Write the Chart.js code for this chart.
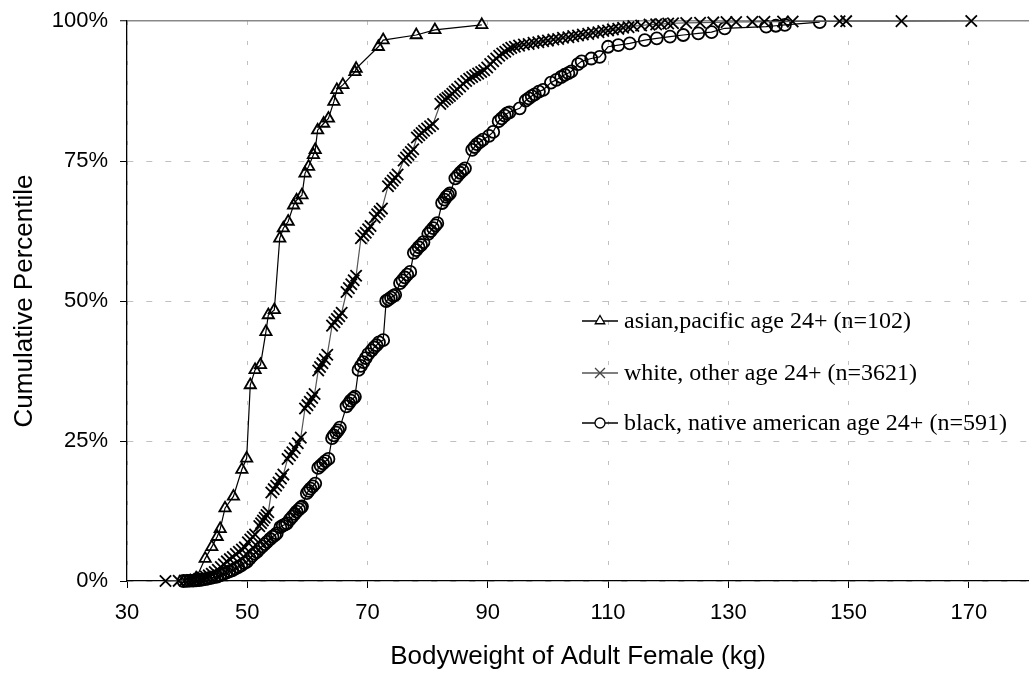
<!DOCTYPE html>
<html>
<head>
<meta charset="utf-8">
<script src="https://cdn.jsdelivr.net/npm/chart.js@4/dist/chart.umd.min.js"></script>
<style>
  html, body { margin: 0; padding: 0; background: #fff; overflow: hidden; }
  #wrap { width: 1029px; height: 675px; position: relative; }
  #chart { display: block; }
</style>
</head>
<body>
<div id="wrap"><canvas id="chart"></canvas></div>
<script>
// each point: [bodyweight kg, cumulative percentile %]
const seriesLabels = [
  'asian,pacific age 24+ (n=102)',
  'white, other age 24+ (n=3621)',
  'black, native american age 24+ (n=591)'
];

const asianPts = [
  [41.5,0.5],[43.0,4.0],[44.1,6.1],[45.0,7.9],[45.5,9.3],[46.3,13.0],[47.7,15.1],
  [49.1,19.9],[49.9,21.9],[50.5,35.0],[51.3,37.7],[52.2,38.6],[53.1,44.5],[53.5,47.5],
  [54.5,48.4],[55.4,61.2],[56.0,63.0],[56.8,64.2],[57.7,67.1],[58.2,68.0],[59.1,68.9],
  [59.6,72.8],[60.2,74.0],[61.0,76.1],[61.3,77.0],[61.7,80.5],[62.7,81.7],[63.5,82.6],
  [64.4,85.6],[64.9,87.7],[65.9,88.6],[67.9,90.9],[68.1,91.5],[71.8,95.4],[72.6,96.6],
  [78.1,97.5],[81.2,98.4],[89.0,99.3]
];

const whitePts = [
  [36.4,0.0],[38.6,0.03],[39.6,0.06],[40.2,0.1],[40.8,0.15],[41.4,0.25],[42.0,0.4],
  [42.6,0.6],[43.1,0.8],[43.6,1.0],[44.1,1.3],[44.6,1.6],[45.1,2.0],[45.6,2.5],[46.1,3.0],
  [46.6,3.5],[47.1,3.9],[47.6,4.3],[48.1,4.8],[48.6,5.2],[49.1,5.6],[49.6,6.0],
  [50.1,6.9],[50.5,7.4],[50.9,7.9],[51.3,8.3],
  [52.0,9.8],[52.3,10.3],[52.6,10.8],[52.9,11.3],[53.2,11.8],[53.5,12.3],
  [54.0,15.8],[54.4,16.4],[54.8,17.0],[55.2,17.6],[55.6,18.3],[56.0,19.0],
  [56.7,21.8],[57.1,22.4],[57.5,23.0],[57.9,23.7],[58.4,24.6],[58.9,25.6],
  [59.6,30.8],[60.0,31.4],[60.4,32.0],[60.8,32.7],[61.2,33.4],
  [61.8,37.6],[62.1,38.2],[62.5,38.9],[62.9,39.6],[63.3,40.4],
  [64.1,45.6],[64.5,46.2],[64.9,46.8],[65.3,47.3],[65.7,47.9],
  [66.5,51.6],[66.9,52.3],[67.3,53.0],[67.7,53.7],[68.1,54.5],
  [68.9,61.2],[69.3,61.7],[69.7,62.2],[70.1,62.8],[70.5,63.4],
  [71.2,64.9],[71.6,65.5],[72.0,66.0],[72.4,66.5],
  [73.4,70.5],[73.8,71.0],[74.2,71.5],[74.6,72.0],[75.0,72.6],
  [76.0,75.1],[76.4,75.6],[76.8,76.1],[77.2,76.6],[77.6,77.1],
  [78.2,79.2],[78.6,79.6],[79.0,80.0],[79.4,80.4],[79.9,80.8],[80.4,81.2],[80.9,81.6],
  [82.1,85.2],[82.5,85.6],[82.9,86.0],[83.3,86.3],[83.7,86.6],[84.1,87.0],[84.5,87.4],
  [84.9,87.8],[85.4,88.3],[85.9,88.8],[86.4,89.3],[86.9,89.7],[87.4,90.0],[87.9,90.3],
  [88.4,90.6],[88.9,90.9],[89.4,91.2],[89.9,91.7],[90.4,92.3],[90.9,92.8],[91.4,93.3],
  [91.9,93.8],[92.4,94.2],[92.9,94.5],[93.4,94.9],[93.9,95.2],[94.5,95.4],[95.2,95.6],
  [96.0,95.8],[96.8,95.9],[97.6,96.1],[98.4,96.2],[99.2,96.4],[100.0,96.5],[100.9,96.7],
  [101.7,96.8],[102.5,97.0],[103.4,97.1],[104.2,97.3],[105.0,97.4],[105.8,97.6],
  [106.7,97.7],[107.5,97.9],[108.4,98.0],[109.2,98.2],[110.0,98.3],[110.8,98.5],
  [111.7,98.6],[112.5,98.8],[113.4,98.9],[114.2,99.1],[115.5,99.2],[116.9,99.35],
  [118.0,99.4],[118.8,99.45],[120.0,99.55],[120.8,99.6],[123.0,99.65],[125.3,99.7],
  [127.5,99.75],[129.7,99.8],[131.3,99.82],[134.0,99.85],[136.0,99.88],[139.1,99.9],
  [140.7,99.92],[148.5,99.95],[149.6,99.97],[158.8,99.98],[170.4,100]
];

const blackPts = [
  [39.4,0.0],[40.0,0.03],[40.5,0.05],[41.0,0.08],[41.5,0.1],[42.0,0.15],[42.5,0.25],
  [43.0,0.35],[43.5,0.45],[44.0,0.55],[44.5,0.7],[45.0,0.8],[45.5,1.0],[46.0,1.25],
  [46.5,1.5],[47.0,1.7],[47.5,1.9],[48.0,2.2],[48.5,2.5],[49.0,2.8],[49.5,3.2],[49.9,3.4],
  [50.4,4.0],[50.8,4.5],[51.2,4.9],[51.6,5.2],[52.1,5.8],[52.5,6.2],[52.9,6.6],[53.3,7.0],
  [53.8,7.5],[54.2,7.9],[54.6,8.2],[54.9,8.5],[55.5,9.6],[55.9,9.9],[56.3,10.1],[56.6,10.3],
  [57.1,11.0],[57.5,11.5],[57.9,12.0],[58.2,12.4],[58.6,12.8],[58.9,13.1],[59.1,13.3],
  [59.9,15.7],[60.2,16.1],[60.5,16.5],[60.9,16.9],[61.3,17.4],
  [61.8,20.2],[62.2,20.6],[62.6,21.0],[63.0,21.4],[63.5,21.8],
  [64.1,25.5],[64.4,26.0],[64.8,26.5],[65.1,26.9],[65.4,27.4],
  [66.5,31.2],[66.9,31.7],[67.2,32.2],[67.6,32.6],[67.9,32.9],
  [68.5,37.7],[68.9,38.4],[69.3,39.1],[69.7,39.8],[70.1,40.5],
  [70.7,41.2],[71.1,41.7],[71.5,42.1],[71.9,42.6],[72.6,43.0],
  [73.1,50.0],[73.5,50.3],[73.9,50.6],[74.3,50.9],[74.6,51.1],
  [75.4,53.2],[75.8,53.7],[76.2,54.2],[76.6,54.7],[77.1,55.2],
  [77.7,58.6],[78.1,59.1],[78.5,59.6],[78.9,60.0],[79.3,60.5],
  [80.1,62.0],[80.5,62.5],[80.9,63.0],[81.3,63.5],[81.6,63.9],
  [82.4,67.5],[82.8,68.1],[83.1,68.6],[83.4,68.9],[83.7,69.2],
  [84.6,71.9],[85.0,72.4],[85.4,72.9],[85.8,73.3],[86.2,73.7],
  [87.4,77.0],[87.8,77.5],[88.2,78.0],[88.7,78.4],[89.2,78.8],
  [90.2,79.5],[90.9,80.2],
  [91.8,82.1],[92.3,82.6],[92.8,83.1],[93.2,83.5],[93.6,83.7],
  [95.3,84.4],[96.3,85.8],[96.8,86.2],[97.3,86.6],[97.8,86.9],[98.5,87.4],[99.2,87.7],
  [100.5,89.0],[101.4,89.5],[102.2,90.0],[102.8,90.4],[103.4,90.7],[103.9,91.0],
  [105.0,92.3],[105.6,92.8],[107.2,93.3],[108.6,93.6],[110.0,95.4],[111.7,95.7],
  [113.6,96.0],[116.1,96.6],[118.1,96.9],[120.3,97.2],[122.5,97.5],[125.0,97.8],
  [127.2,98.0],[129.4,98.7],[136.3,99.0],[137.9,99.15],[139.4,99.3],[145.2,99.8]
];

const xTicks = [30, 50, 70, 90, 110, 130, 150, 170];
const yTicks = [0, 25, 50, 75, 100];

const sansFont = "'Liberation Sans', Arial, sans-serif";
const serifFont = "'Liberation Serif', 'Times New Roman', serif";

function toXY(pts) {
  return pts.map(p => ({ x: p[0], y: p[1] }));
}

function makeSeries(label, pts, style, radius, lineColor) {
  return {
    label: label,
    data: toXY(pts),
    showLine: true,
    borderColor: lineColor,
    borderWidth: 1.2,
    pointStyle: style,
    pointRadius: radius,
    pointBorderColor: '#000',
    pointBackgroundColor: 'rgba(0,0,0,0)',
    pointBorderWidth: 1.8,
    clip: false
  };
}

// legend drawn inside the plot, right side
const insideLegend = {
  id: 'insideLegend',
  afterDraw(chart) {
    const ctx = chart.ctx;
    const rows = [321, 373, 423];
    ctx.save();
    chart.data.datasets.forEach((ds, i) => {
      const y = rows[i];
      ctx.strokeStyle = ds.borderColor;
      ctx.lineWidth = 1.3;
      ctx.beginPath();
      ctx.moveTo(582, y);
      ctx.lineTo(618, y);
      ctx.stroke();
      ctx.strokeStyle = i === 1 ? '#444' : '#000';
      ctx.fillStyle = '#fff';
      ctx.lineWidth = 1.3;
      Chart.helpers.drawPoint(ctx, {
        pointStyle: ds.pointStyle,
        radius: ds.pointRadius - 1,
        borderWidth: 1.3,
        rotation: 0
      }, 600, y);
      ctx.fillStyle = '#000';
      ctx.font = '24px ' + serifFont;
      ctx.textBaseline = 'middle';
      ctx.textAlign = 'left';
      ctx.fillText(ds.label, 624, y + 1);
    });
    ctx.restore();
  }
};

const ctx = document.getElementById('chart').getContext('2d');
new Chart(ctx, {
  type: 'scatter',
  data: {
    datasets: [
      makeSeries(seriesLabels[0], asianPts, 'triangle', 6.5, '#000'),
      makeSeries(seriesLabels[1], whitePts, 'crossRot', 8, '#555'),
      makeSeries(seriesLabels[2], blackPts, 'circle', 6, '#000')
    ]
  },
  options: {
    responsive: true,
    maintainAspectRatio: false,
    animation: false,
    layout: { autoPadding: false, padding: { top: 21, right: 0, left: 0, bottom: 0 } },
    plugins: {
      legend: { display: false },
      tooltip: { enabled: false }
    },
    scales: {
      x: {
        type: 'linear',
        min: 30,
        max: 180,
        afterBuildTicks: s => { s.ticks = xTicks.map(v => ({ value: v })); },
        afterFit: s => { s.height = 94; s.paddingLeft = 0; s.paddingRight = 0; },
        ticks: {
          color: '#000',
          padding: 12,
          font: { family: sansFont, size: 22 }
        },
        grid: {
          color: '#c0c0c0',
          lineWidth: 1,
          tickLength: 7,
          tickColor: '#000',
          tickWidth: 1
        },
        border: { display: true, color: '#000', width: 1.3, dash: [4, 16] },
        title: {
          display: true,
          text: 'Bodyweight of Adult Female (kg)',
          color: '#000',
          font: { family: sansFont, size: 26 },
          padding: { top: 0, bottom: 3 }
        }
      },
      y: {
        min: 0,
        max: 100,
        afterBuildTicks: s => { s.ticks = yTicks.map(v => ({ value: v })); },
        afterFit: s => { s.width = 127; s.paddingTop = 0; s.paddingBottom = 0; },
        ticks: {
          color: '#000',
          padding: 12,
          font: { family: sansFont, size: 22 },
          callback: v => v + '%'
        },
        grid: {
          color: c => (c.tick && c.tick.value === 100) ? '#888' : '#c0c0c0',
          lineWidth: c => (c.tick && c.tick.value === 100) ? 1.5 : 1,
          tickLength: 7,
          tickColor: '#000',
          tickWidth: 1
        },
        border: {
          display: true, color: '#000', width: 1.3,
          dash: c => (c.tick && c.tick.value === 100) ? [] : [6, 13]
        },
        title: {
          display: true,
          text: 'Cumulative Percentile',
          color: '#000',
          font: { family: sansFont, size: 26 },
          padding: { top: 9, bottom: 0 }
        }
      }
    }
  },
  plugins: [insideLegend]
});
</script>
</body>
</html>
